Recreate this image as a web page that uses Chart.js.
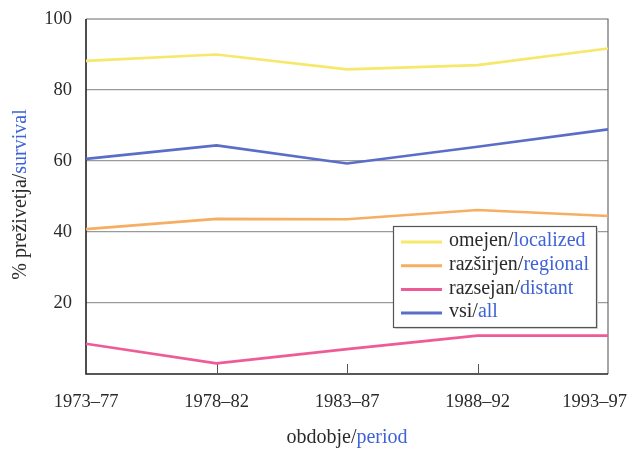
<html>
<head>
<meta charset="utf-8">
<title>Preživetje</title>
<script src="https://cdn.jsdelivr.net/npm/chart.js@4.4.1/dist/chart.umd.min.js"></script>
<style>
  html, body { margin: 0; padding: 0; background: #fff; }
  #wrap { width: 629px; height: 449px; }
</style>
</head>
<body>
<div id="wrap"><canvas id="myChart" width="629" height="449"></canvas></div>
<script>
// podatki
var periods = ['1973–77', '1978–82', '1983–87', '1988–92', '1993–97'];
var localized = [88.2, 90, 85.8, 87, 91.7];
var regional = [40.8, 43.7, 43.6, 46.2, 44.5];
var distant = [8.5, 3, 7, 10.8, 10.8];
var all = [60.6, 64.4, 59.3, 64, 68.9];
var yTicks = [20, 40, 60, 80, 100];

var namesSl = ['omejen', 'razširjen', 'razsejan', 'vsi'];
var namesEn = ['localized', 'regional', 'distant', 'all'];
var colors = ['#f6e86a', '#f5ae62', '#ee5b96', '#5a6ec8'];

var FONT = '"Liberation Serif", "Times New Roman", serif';
var BLUE = '#3f63d6';
var INK = '#2a2a2a';

// besedilo v dveh barvah: slovensko (črno) / angleško (modro)
function twoTone(ctx, a, b, x, y, align) {
  var wa = ctx.measureText(a).width;
  var wb = ctx.measureText(b).width;
  var start = x;
  if (align === 'center') start = x - (wa + wb) / 2;
  ctx.textAlign = 'left';
  ctx.fillStyle = INK;
  ctx.fillText(a, start, y);
  ctx.fillStyle = BLUE;
  ctx.fillText(b, start + wa, y);
}

var decor = {
  id: 'decor',
  beforeDatasetsDraw: function(chart) {
    var ctx = chart.ctx, a = chart.chartArea;
    var xs = chart.scales.x;
    ctx.save();
    // okvir
    ctx.strokeStyle = '#6a6a6a';
    ctx.lineWidth = 1.2;
    ctx.beginPath();
    ctx.moveTo(a.left, a.top); ctx.lineTo(a.right, a.top); ctx.lineTo(a.right, a.bottom);
    ctx.stroke();
    ctx.strokeStyle = '#222';
    ctx.lineWidth = 1.6;
    ctx.beginPath();
    ctx.moveTo(a.left, a.top); ctx.lineTo(a.left, a.bottom); ctx.lineTo(a.right, a.bottom);
    ctx.stroke();
    // notranje oznake na osi x
    ctx.strokeStyle = '#555';
    ctx.lineWidth = 1;
    for (var i = 1; i < periods.length - 1; i++) {
      var px = Math.round(xs.getPixelForValue(i)) + 0.5;
      ctx.beginPath();
      ctx.moveTo(px, a.bottom);
      ctx.lineTo(px, a.bottom - 10);
      ctx.stroke();
    }
    ctx.restore();
  },
  afterDraw: function(chart) {
    var ctx = chart.ctx, a = chart.chartArea;
    var xs = chart.scales.x;
    ctx.save();
    ctx.textBaseline = 'middle';
    // oznake obdobij
    ctx.font = '18.5px ' + FONT;
    ctx.fillStyle = INK;
    ctx.textAlign = 'center';
    for (var i = 0; i < periods.length; i++) {
      var w = ctx.measureText(periods[i]).width;
      var cx = xs.getPixelForValue(i);
      cx = Math.min(cx, chart.width - 2 - w / 2);
      ctx.fillText(periods[i], cx, a.bottom + 28);
    }
    ctx.font = '20px ' + FONT;
    // naslov osi x
    twoTone(ctx, 'obdobje/', 'period', (a.left + a.right) / 2, 438, 'center');
    // naslov osi y
    ctx.save();
    ctx.translate(21, (a.top + a.bottom) / 2 - 2);
    ctx.rotate(-Math.PI / 2);
    twoTone(ctx, '% preživetja/', 'survival', 0, 0, 'center');
    ctx.restore();

    // legenda
    var bx = 393, by = 226, bw = 203, bh = 101;
    ctx.fillStyle = '#d8d8d8';
    ctx.fillRect(bx + 2, by + 2, bw, bh);
    ctx.fillStyle = '#fff';
    ctx.fillRect(bx, by, bw, bh);
    ctx.strokeStyle = '#555';
    ctx.lineWidth = 1.2;
    ctx.strokeRect(bx + 0.5, by + 0.5, bw, bh);
    chart.data.datasets.forEach(function(ds, k) {
      var ry = 241 + k * 23.7;
      ctx.strokeStyle = ds.borderColor;
      ctx.lineWidth = 3;
      ctx.beginPath();
      ctx.moveTo(401, ry + 1);
      ctx.lineTo(442, ry + 1);
      ctx.stroke();
      twoTone(ctx, namesSl[k] + '/', namesEn[k], 449, ry, 'left');
    });
    ctx.restore();
  }
};

var series = [localized, regional, distant, all];
var datasets = series.map(function(vals, k) {
  return {
    label: namesSl[k] + '/' + namesEn[k],
    data: vals,
    borderColor: colors[k],
    backgroundColor: colors[k],
    borderWidth: 2.6,
    pointRadius: 0,
    tension: 0,
    fill: false
  };
});

var ctx = document.getElementById('myChart').getContext('2d');
var chart = new Chart(ctx, {
  type: 'line',
  data: { labels: periods, datasets: datasets },
  options: {
    responsive: false,
    animation: false,
    devicePixelRatio: 1,
    layout: { padding: { left: 0, right: 21, top: 19, bottom: 0 } },
    plugins: {
      legend: { display: false },
      tooltip: { enabled: false }
    },
    scales: {
      x: {
        offset: false,
        grid: { display: false, drawTicks: false },
        border: { display: false },
        ticks: { display: false },
        afterFit: function(s) { s.height = 75; s.paddingLeft = 0; s.paddingRight = 0; }
      },
      y: {
        min: 0,
        max: 100,
        afterBuildTicks: function(s) {
          s.ticks = yTicks.map(function(v) { return { value: v }; });
        },
        grid: {
          drawTicks: false,
          lineWidth: 1.2,
          color: function(c) { return c.tick && c.tick.value === 100 ? 'rgba(0,0,0,0)' : '#9a9a9a'; }
        },
        border: { display: false },
        ticks: {
          padding: 14,
          color: INK,
          font: { family: FONT, size: 18.5 }
        },
        afterFit: function(s) { s.width = 86; s.paddingTop = 0; s.paddingBottom = 0; }
      }
    }
  },
  plugins: [decor]
});
</script>
</body>
</html>
